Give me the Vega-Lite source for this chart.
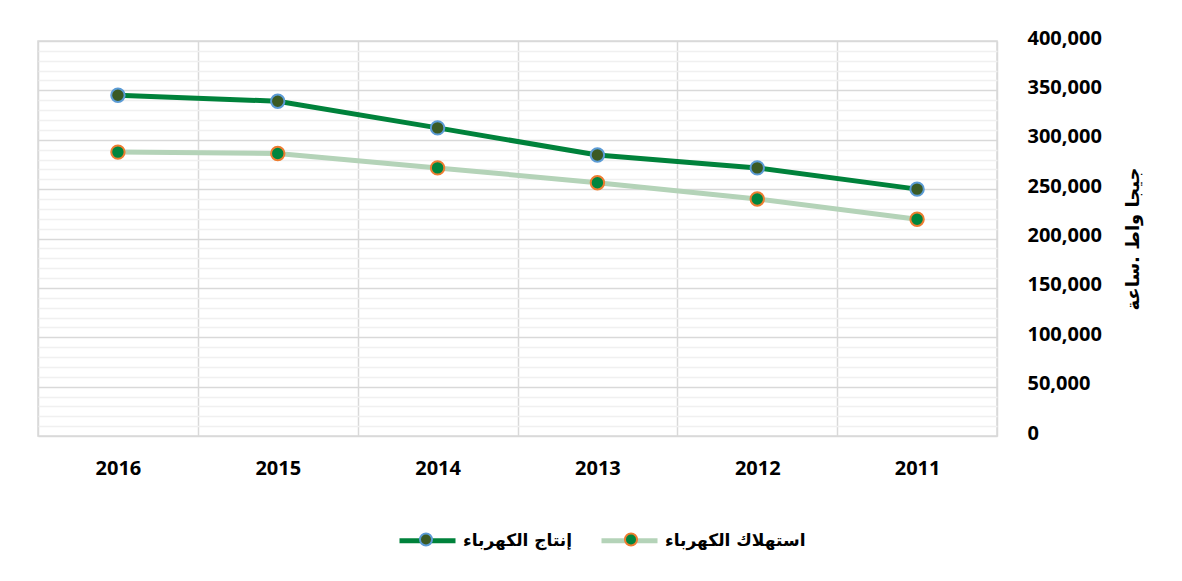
{
  "$schema": "https://vega.github.io/schema/vega-lite/v6.json",
  "width": 959,
  "height": 395,
  "autosize": "none",
  "padding": {"left": 38, "top": 41, "right": 185, "bottom": 145},
  "background": "white",
  "config": {
    "font": "Open Sans, DejaVu Sans",
    "view": {"stroke": "#d9d9d9", "strokeWidth": 1.5},
    "legend": {"padding": 0, "labelFont": "DejaVu Sans", "labelFontSize": 17, "labelFontWeight": "bold", "labelColor": "#000000", "labelLimit": 400}
  },
  "data": {
    "values": [
      {"year": "2016", "series": "إنتاج الكهرباء", "value": 345000},
      {"year": "2015", "series": "إنتاج الكهرباء", "value": 339000},
      {"year": "2014", "series": "إنتاج الكهرباء", "value": 312000},
      {"year": "2013", "series": "إنتاج الكهرباء", "value": 284500},
      {"year": "2012", "series": "إنتاج الكهرباء", "value": 271500},
      {"year": "2011", "series": "إنتاج الكهرباء", "value": 250000},
      {"year": "2016", "series": "استهلاك الكهرباء", "value": 287500},
      {"year": "2015", "series": "استهلاك الكهرباء", "value": 286000},
      {"year": "2014", "series": "استهلاك الكهرباء", "value": 271500},
      {"year": "2013", "series": "استهلاك الكهرباء", "value": 256500},
      {"year": "2012", "series": "استهلاك الكهرباء", "value": 240000},
      {"year": "2011", "series": "استهلاك الكهرباء", "value": 219500}
    ]
  },
  "encoding": {
    "x": {
      "field": "year", "type": "ordinal", "sort": "descending",
      "scale": {"paddingInner": 0, "paddingOuter": 0},
      "axis": {
        "title": null, "orient": "bottom", "tickBand": "extent", "grid": true,
        "gridColor": "#d9d9d9", "gridWidth": 1.5, "domain": false, "ticks": false,
        "labelAngle": 0, "labelFontSize": 20, "labelFontWeight": "bold", "labelColor": "#000000",
        "labelPadding": 22, "labelBaseline": "top"
      }
    },
    "y": {
      "field": "value", "type": "quantitative",
      "scale": {"domain": [0, 400000], "nice": false}
    }
  },
  "resolve": {"axis": {"y": "independent"}},
  "layer": [
    {
      "mark": {"type": "line", "strokeWidth": 5, "interpolate": "linear"},
      "encoding": {
        "y": {
          "field": "value", "type": "quantitative",
          "axis": {
            "orient": "left", "title": null, "labels": false, "ticks": false, "domain": false,
            "grid": true, "gridColor": "#f0f0f0", "gridWidth": 1.5,
            "values": [10000,20000,30000,40000,60000,70000,80000,90000,110000,120000,130000,140000,160000,170000,180000,190000,210000,220000,230000,240000,260000,270000,280000,290000,310000,320000,330000,340000,360000,370000,380000,390000]
          }
        },
        "color": {
          "field": "series", "type": "nominal",
          "scale": {"domain": ["إنتاج الكهرباء", "استهلاك الكهرباء"], "range": ["#00823b", "#b4d3b8"]},
          "legend": {
            "title": null, "orient": "none", "direction": "horizontal",
            "legendX": 359, "legendY": 469,
            "symbolType": "stroke", "symbolSize": 3136, "symbolStrokeWidth": 5,
            "labelOffset": 5, "columnPadding": 18
          }
        }
      }
    },
    {
      "mark": {"type": "point", "filled": true, "size": 180, "strokeWidth": 2, "opacity": 1},
      "encoding": {
        "y": {
          "field": "value", "type": "quantitative",
          "axis": {
            "orient": "right", "title": "جيجا واط .ساعة", "titleAngle": -90,
            "titleFont": "DejaVu Sans", "titleFontSize": 18, "titleFontWeight": "bold", "titleColor": "#000000", "titlePadding": 41,
            "labels": true, "ticks": false, "domain": false,
            "grid": true, "gridColor": "#d9d9d9", "gridWidth": 1.5,
            "values": [0, 50000, 100000, 150000, 200000, 250000, 300000, 350000, 400000],
            "format": ",d", "labelAlign": "left", "labelPadding": 30, "labelOffset": -3,
            "labelFontSize": 20, "labelFontWeight": "bold", "labelColor": "#000000"
          }
        },
        "fill": {
          "field": "series", "type": "nominal",
          "sort": ["إنتاج الكهرباء", "استهلاك الكهرباء"],
          "scale": {"range": ["#3b5a24", "#00853e"]},
          "legend": {
            "title": null, "orient": "none", "direction": "horizontal",
            "legendX": 359, "legendY": 469,
            "symbolType": "M-0.22,0A0.22,0.22 0 1,1 0.22,0A0.22,0.22 0 1,1 -0.22,0Z", "symbolSize": 3136, "symbolStrokeWidth": 2,
            "symbolStrokeColor": "transparent",
            "labelOffset": 5, "columnPadding": 142, "labelExpr": "''"
          }
        },
        "stroke": {
          "field": "series", "type": "nominal",
          "sort": "ascending",
          "scale": {"range": ["#5b9bd5", "#ed7d31"]},
          "legend": {
            "title": null, "orient": "none", "direction": "horizontal",
            "legendX": 359, "legendY": 469,
            "symbolType": "M-0.215,0A0.215,0.215 0 1,1 0.215,0A0.215,0.215 0 1,1 -0.215,0Z", "symbolSize": 3136, "symbolStrokeWidth": 2,
            "symbolFillColor": "transparent",
            "labelOffset": 5, "columnPadding": 142, "labelExpr": "''"
          }
        }
      }
    }
  ]
}
